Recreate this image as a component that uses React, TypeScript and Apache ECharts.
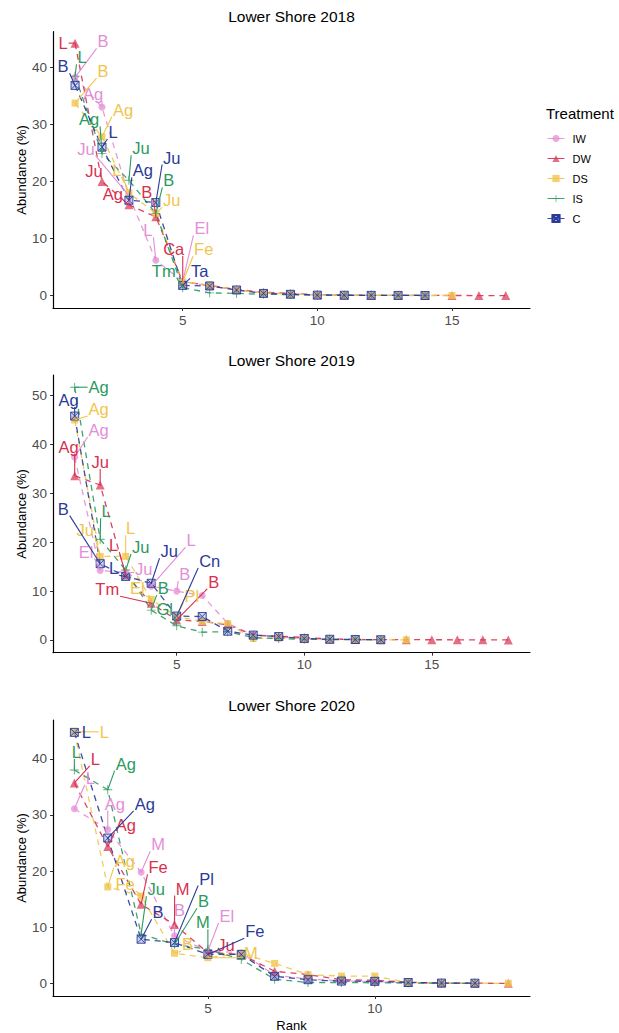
import React, { useEffect, useRef } from "react";
import * as echarts from "echarts";

const TREATMENTS = ["IW", "DW", "DS", "IS", "C"];
const TITLES = ["Lower Shore 2018", "Lower Shore 2019", "Lower Shore 2020"];

// 2018 abundances by rank
const IW_2018 = [38.2, 33.0, 17.5, 6.2, 2.5, 1.7, 1.0, 0.5, 0.3, 0.15, 0.1, 0.05, 0.05, 0.03];
const DW_2018 = [44.2, 20.0, 15.9, 13.8, 2.4, 1.8, 1.1, 0.6, 0.4, 0.2, 0.12, 0.08, 0.06, 0.05, 0.04, 0.03, 0.02];
const DS_2018 = [33.7, 27.8, 18.0, 14.4, 2.4, 1.9, 1.0, 0.5, 0.3, 0.15, 0.1, 0.07, 0.05, 0.04, 0.03];
const IS_2018 = [38.4, 24.9, 20.2, 14.4, 1.4, 0.5, 0.4, 0.25, 0.2, 0.1, 0.08, 0.06, 0.05, 0.04];
const C_2018 = [36.8, 26.0, 16.7, 16.3, 1.8, 1.7, 1.0, 0.4, 0.25, 0.1, 0.08, 0.06, 0.05, 0.04];

// 2019
const IW_2019 = [37.4, 14.2, 13.8, 11.0, 10.0, 9.1, 3.4, 1.0, 0.6, 0.3, 0.15, 0.1, 0.05];
const DW_2019 = [33.6, 31.7, 13.3, 7.5, 4.1, 3.8, 3.1, 1.0, 0.8, 0.5, 0.2, 0.1, 0.08, 0.06, 0.05, 0.04, 0.03, 0.02];
const DS_2019 = [45.0, 17.1, 17.1, 8.3, 4.8, 3.8, 3.3, 0.3, 0.4, 0.2, 0.1, 0.08, 0.05, 0.03];
const IS_2019 = [51.7, 20.6, 14.3, 6.1, 2.9, 1.6, 1.7, 0.5, 0.3, 0.15, 0.1, 0.08, 0.05];
const C_2019 = [45.8, 15.6, 13.0, 11.6, 4.9, 4.8, 1.8, 1.0, 0.7, 0.3, 0.15, 0.1, 0.05];

// 2020
const IW_2020 = [31.1, 27.4, 19.8, 8.5, 5.8, 5.5, 1.5, 0.8, 0.5, 0.3, 0.2, 0.1, 0.05];
const DW_2020 = [35.7, 24.4, 14.1, 10.5, 5.5, 5.2, 2.2, 1.6, 0.7, 0.6, 0.25, 0.1, 0.08, 0.05];
const DS_2020 = [44.8, 17.2, 15.6, 5.4, 4.6, 5.4, 3.6, 1.6, 1.35, 1.35, 0.2, 0.1, 0.08, 0.05];
const IS_2020 = [38.0, 34.5, 8.8, 7.0, 6.1, 4.3, 0.8, 0.2, 0.2, 0.15, 0.1, 0.08, 0.05];
const C_2020 = [44.7, 25.9, 7.9, 7.3, 5.2, 5.2, 1.3, 0.7, 0.45, 0.4, 0.2, 0.1, 0.08];

// species labels for the top five ranks
const LAB_IW_2018 = ["B", "Ag", "Ju", "L", "El"];
const LAB_DW_2018 = ["L", "Ju", "Ag", "B", "Ca"];
const LAB_DS_2018 = ["B", "Ag", "L", "Ju", "Fe"];
const LAB_IS_2018 = ["L", "Ag", "Ju", "B", "Tm"];
const LAB_C_2018 = ["B", "L", "Ag", "Ju", "Ta"];

const LAB_IW_2019 = ["Ag", "El", "Ju", "L", "B"];
const LAB_DW_2019 = ["Ag", "Ju", "L", "Tm", "B"];
const LAB_DS_2019 = ["Ag", "Ju", "L", "El", "Pl"];
const LAB_IS_2019 = ["Ag", "L", "Ju", "B", "Gl"];
const LAB_C_2019 = ["Ag", "B", "L", "Ju", "Cn"];

const LAB_IW_2020 = ["L", "Ag", "M", "B", "El"];
const LAB_DW_2020 = ["L", "Ag", "Fe", "M", "Ju"];
const LAB_DS_2020 = ["L", "Ag", "Fe", "B", "M"];
const LAB_IS_2020 = ["L", "Ag", "Ju", "B", "M"];
const LAB_C_2020 = ["L", "Ag", "B", "Pl", "Fe"];

const VALUES: Record<string, number[]>[] = [
  { IW: IW_2018, DW: DW_2018, DS: DS_2018, IS: IS_2018, C: C_2018 },
  { IW: IW_2019, DW: DW_2019, DS: DS_2019, IS: IS_2019, C: C_2019 },
  { IW: IW_2020, DW: DW_2020, DS: DS_2020, IS: IS_2020, C: C_2020 },
];
const LABELS: Record<string, string[]>[] = [
  { IW: LAB_IW_2018, DW: LAB_DW_2018, DS: LAB_DS_2018, IS: LAB_IS_2018, C: LAB_C_2018 },
  { IW: LAB_IW_2019, DW: LAB_DW_2019, DS: LAB_DS_2019, IS: LAB_IS_2019, C: LAB_C_2019 },
  { IW: LAB_IW_2020, DW: LAB_DW_2020, DS: LAB_DS_2020, IS: LAB_IS_2020, C: LAB_C_2020 },
];

// label placement (pixel offsets from the point, repel-style) — styling only
const OFFSETS: Record<string, number[][]>[] = [
  {
    IW: [[28, -36], [-9, -13], [-43, -47], [-8, -30], [19, -53]],
    DW: [[-12, 0], [-8, -10], [-16, -11], [-9, -25], [-9, -33]],
    DS: [[28, -32], [21, -27], [-12, -23], [16, -13], [21, -33]],
    IS: [[7, -19], [-13, -34], [12, -32], [13, -33], [-19, -17]],
    C: [[-12, -19], [11, -15], [14, -30], [16, -45], [17, -14]],
  },
  {
    IW: [[24, -27], [-14, -19], [18, -4], [40, -46], [8, -17]],
    DW: [[-6, -29], [0, -23], [-12, -30], [-44, -14], [37, -38]],
    DS: [[24, -11], [-15, -26], [5, -28], [-14, -11], [15, -21]],
    IS: [[24, 0], [6, -28], [15, -23], [12, -22], [-12, -17]],
    C: [[-6, -16], [-37, -55], [-12, -8], [18, -32], [33, -55]],
  },
  {
    IW: [[16, -31], [7, -26], [17, -28], [5, -26], [19, -35]],
    DW: [[21, -24], [18, -21], [17, -37], [8, -36], [18, -8]],
    DS: [[30, 0], [17, -26], [-16, -12], [13, -9], [43, -5]],
    IS: [[2, -18], [18, -26], [15, -45], [29, -43], [-5, -27]],
    C: [[12, 0], [37, -34], [17, -27], [32, -64], [47, -23]],
  },
];

const COLORS: Record<string, string> = {
  IW: "#E48ED6",
  DW: "#D8304F",
  DS: "#F0C64A",
  IS: "#2A9A60",
  C: "#2B3A98",
};
const FILL: Record<string, string> = {
  IW: "rgba(228,142,214,0.75)",
  DW: "rgba(216,48,79,0.7)",
  DS: "rgba(240,198,74,0.8)",
  IS: "rgba(42,154,96,0.8)",
  C: "rgba(120,135,205,0.35)",
};
const PLUS = "path://M4.5,0H5.5V4.5H10V5.5H5.5V10H4.5V5.5H0V4.5H4.5Z";
const BOXX = "path://M0,0H10V10H0Z M0,0L10,10 M10,0L0,10";
const SYMBOL: Record<string, string> = { IW: "circle", DW: "triangle", DS: "rect", IS: PLUS, C: BOXX };
const SYMBOL_SIZE: Record<string, number> = { IW: 7, DW: 9, DS: 7, IS: 9, C: 8 };

const FONT = '"Liberation Sans", Arial, Helvetica, sans-serif';
const LABEL_SIZE = 16.5;

const PANELS = [
  { top: 31.7, height: 276.3, xMin: 0.18, xMax: 17.9, yMin: -2.15, yMax: 46.2, xTicks: [5, 10, 15], yTicks: [0, 10, 20, 30, 40], titleTop: 8 },
  { top: 375, height: 277.7, xMin: 0.15, xMax: 18.85, yMin: -2.6, yMax: 54.2, xTicks: [5, 10, 15], yTicks: [0, 10, 20, 30, 40, 50], titleTop: 352 },
  { top: 720, height: 276.7, xMin: 0.36, xMax: 14.65, yMin: -2.2, yMax: 46.9, xTicks: [5, 10], yTicks: [0, 10, 20, 30, 40], titleTop: 697 },
];

let measureCtx: CanvasRenderingContext2D | null = null;
function textWidth(t: string): number {
  if (!measureCtx) {
    measureCtx = document.createElement("canvas").getContext("2d");
  }
  if (!measureCtx) return t.length * LABEL_SIZE * 0.6;
  measureCtx.font = `${LABEL_SIZE}px ${FONT}`;
  return measureCtx.measureText(t).width;
}

function labelSeries(panel: number, t: string) {
  const values = VALUES[panel][t];
  const labels = LABELS[panel][t];
  const offsets = OFFSETS[panel][t];
  const color = COLORS[t];
  return {
    type: "custom",
    xAxisIndex: panel,
    yAxisIndex: panel,
    z: 10,
    silent: true,
    clip: false,
    data: labels.map((_, i) => [i + 1, values[i], i]),
    renderItem: (_params: any, api: any) => {
      const i = api.value(2);
      const p = api.coord([api.value(0), api.value(1)]);
      const off = offsets[i];
      const cx = p[0] + off[0];
      const cy = p[1] + off[1];
      const txt = labels[i];
      const hw = textWidth(txt) / 2 + 1;
      const hh = LABEL_SIZE * 0.42;
      const nx = Math.min(Math.max(p[0], cx - hw), cx + hw);
      const ny = Math.min(Math.max(p[1], cy - hh), cy + hh);
      const children: any[] = [];
      if (Math.hypot(nx - p[0], ny - p[1]) > 5) {
        children.push({
          type: "line",
          shape: { x1: p[0], y1: p[1], x2: nx, y2: ny },
          style: { stroke: color, lineWidth: 1.1 },
        });
      }
      children.push({
        type: "text",
        x: cx,
        y: cy,
        style: {
          text: txt,
          fill: color,
          fontSize: LABEL_SIZE,
          fontFamily: FONT,
          align: "center",
          verticalAlign: "middle",
        },
      });
      return { type: "group", children };
    },
  };
}

export default function App() {
  const ref = useRef<HTMLDivElement>(null);
  useEffect(() => {
    document.body.style.margin = "0";
    if (!ref.current) return;
    const chart = echarts.init(ref.current, undefined, { renderer: "svg" });

    const grids = PANELS.map((p) => ({ left: 53, width: 477, top: p.top, height: p.height }));
    const xAxes = PANELS.map((p, i) => ({
      type: "value",
      gridIndex: i,
      min: p.xMin,
      max: p.xMax,
      name: i === 2 ? "Rank" : "",
      nameLocation: "middle",
      nameGap: 23,
      nameMoveOverlap: false,
      nameTextStyle: { fontSize: 13, color: "#000", fontFamily: FONT },
      axisLine: { show: true, onZero: false, lineStyle: { color: "#000", width: 1.2 } },
      axisTick: { show: true, customValues: p.xTicks, length: 3, lineStyle: { color: "#333" } },
      axisLabel: { customValues: p.xTicks, color: "#4D4D4D", fontSize: 13.5, margin: 5, fontFamily: FONT },
      splitLine: { show: false },
    }));
    const yAxes = PANELS.map((p, i) => ({
      type: "value",
      gridIndex: i,
      min: p.yMin,
      max: p.yMax,
      name: "Abundance (%)",
      nameLocation: "middle",
      nameGap: 25,
      nameMoveOverlap: false,
      nameTextStyle: { fontSize: 13, color: "#000", fontFamily: FONT },
      axisLine: { show: true, onZero: false, lineStyle: { color: "#000", width: 1.2 } },
      axisTick: { show: true, customValues: p.yTicks, length: 3, lineStyle: { color: "#333" } },
      axisLabel: { customValues: p.yTicks, color: "#4D4D4D", fontSize: 13.5, margin: 6, fontFamily: FONT },
      splitLine: { show: false },
    }));

    const series: any[] = [];
    PANELS.forEach((_, i) => {
      TREATMENTS.forEach((t) => {
        series.push({
          type: "line",
          name: t,
          xAxisIndex: i,
          yAxisIndex: i,
          data: VALUES[i][t].map((v, k) => [k + 1, v]),
          symbol: SYMBOL[t],
          symbolSize: SYMBOL_SIZE[t],
          showAllSymbol: true,
          itemStyle: t === "C"
            ? { color: FILL[t], borderColor: COLORS[t], borderWidth: 0.9 }
            : { color: FILL[t] },
          lineStyle: { color: COLORS[t], width: 1.3, type: [6, 5], opacity: 0.9 },
          z: 2,
        });
      });
      TREATMENTS.forEach((t) => series.push(labelSeries(i, t)));
    });

    const titles: any[] = PANELS.map((p, i) => ({
      text: TITLES[i],
      left: 291.5,
      top: p.titleTop,
      padding: 0,
      textAlign: "center",
      textStyle: { fontSize: 15.5, fontWeight: "normal", color: "#000", fontFamily: FONT },
    }));
    titles.push({
      text: "Treatment",
      left: 546,
      top: 106,
      padding: 0,
      textStyle: { fontSize: 15, fontWeight: "normal", color: "#000", fontFamily: FONT },
    });

    chart.setOption({
      animation: false,
      backgroundColor: "#fff",
      title: titles,
      grid: grids,
      xAxis: xAxes,
      yAxis: yAxes,
      legend: {
        data: TREATMENTS,
        orient: "vertical",
        left: 547,
        top: 133,
        padding: 0,
        itemWidth: 17,
        itemHeight: 9,
        itemGap: 9,
        textStyle: { fontSize: 11, color: "#000", fontFamily: FONT, padding: [0, 0, 0, 3] },
        lineStyle: { type: "solid", width: 1 },
      },
      series,
    });
    return () => chart.dispose();
  }, []);
  return <div ref={ref} style={{ width: 619, height: 1033 }} />;
}
